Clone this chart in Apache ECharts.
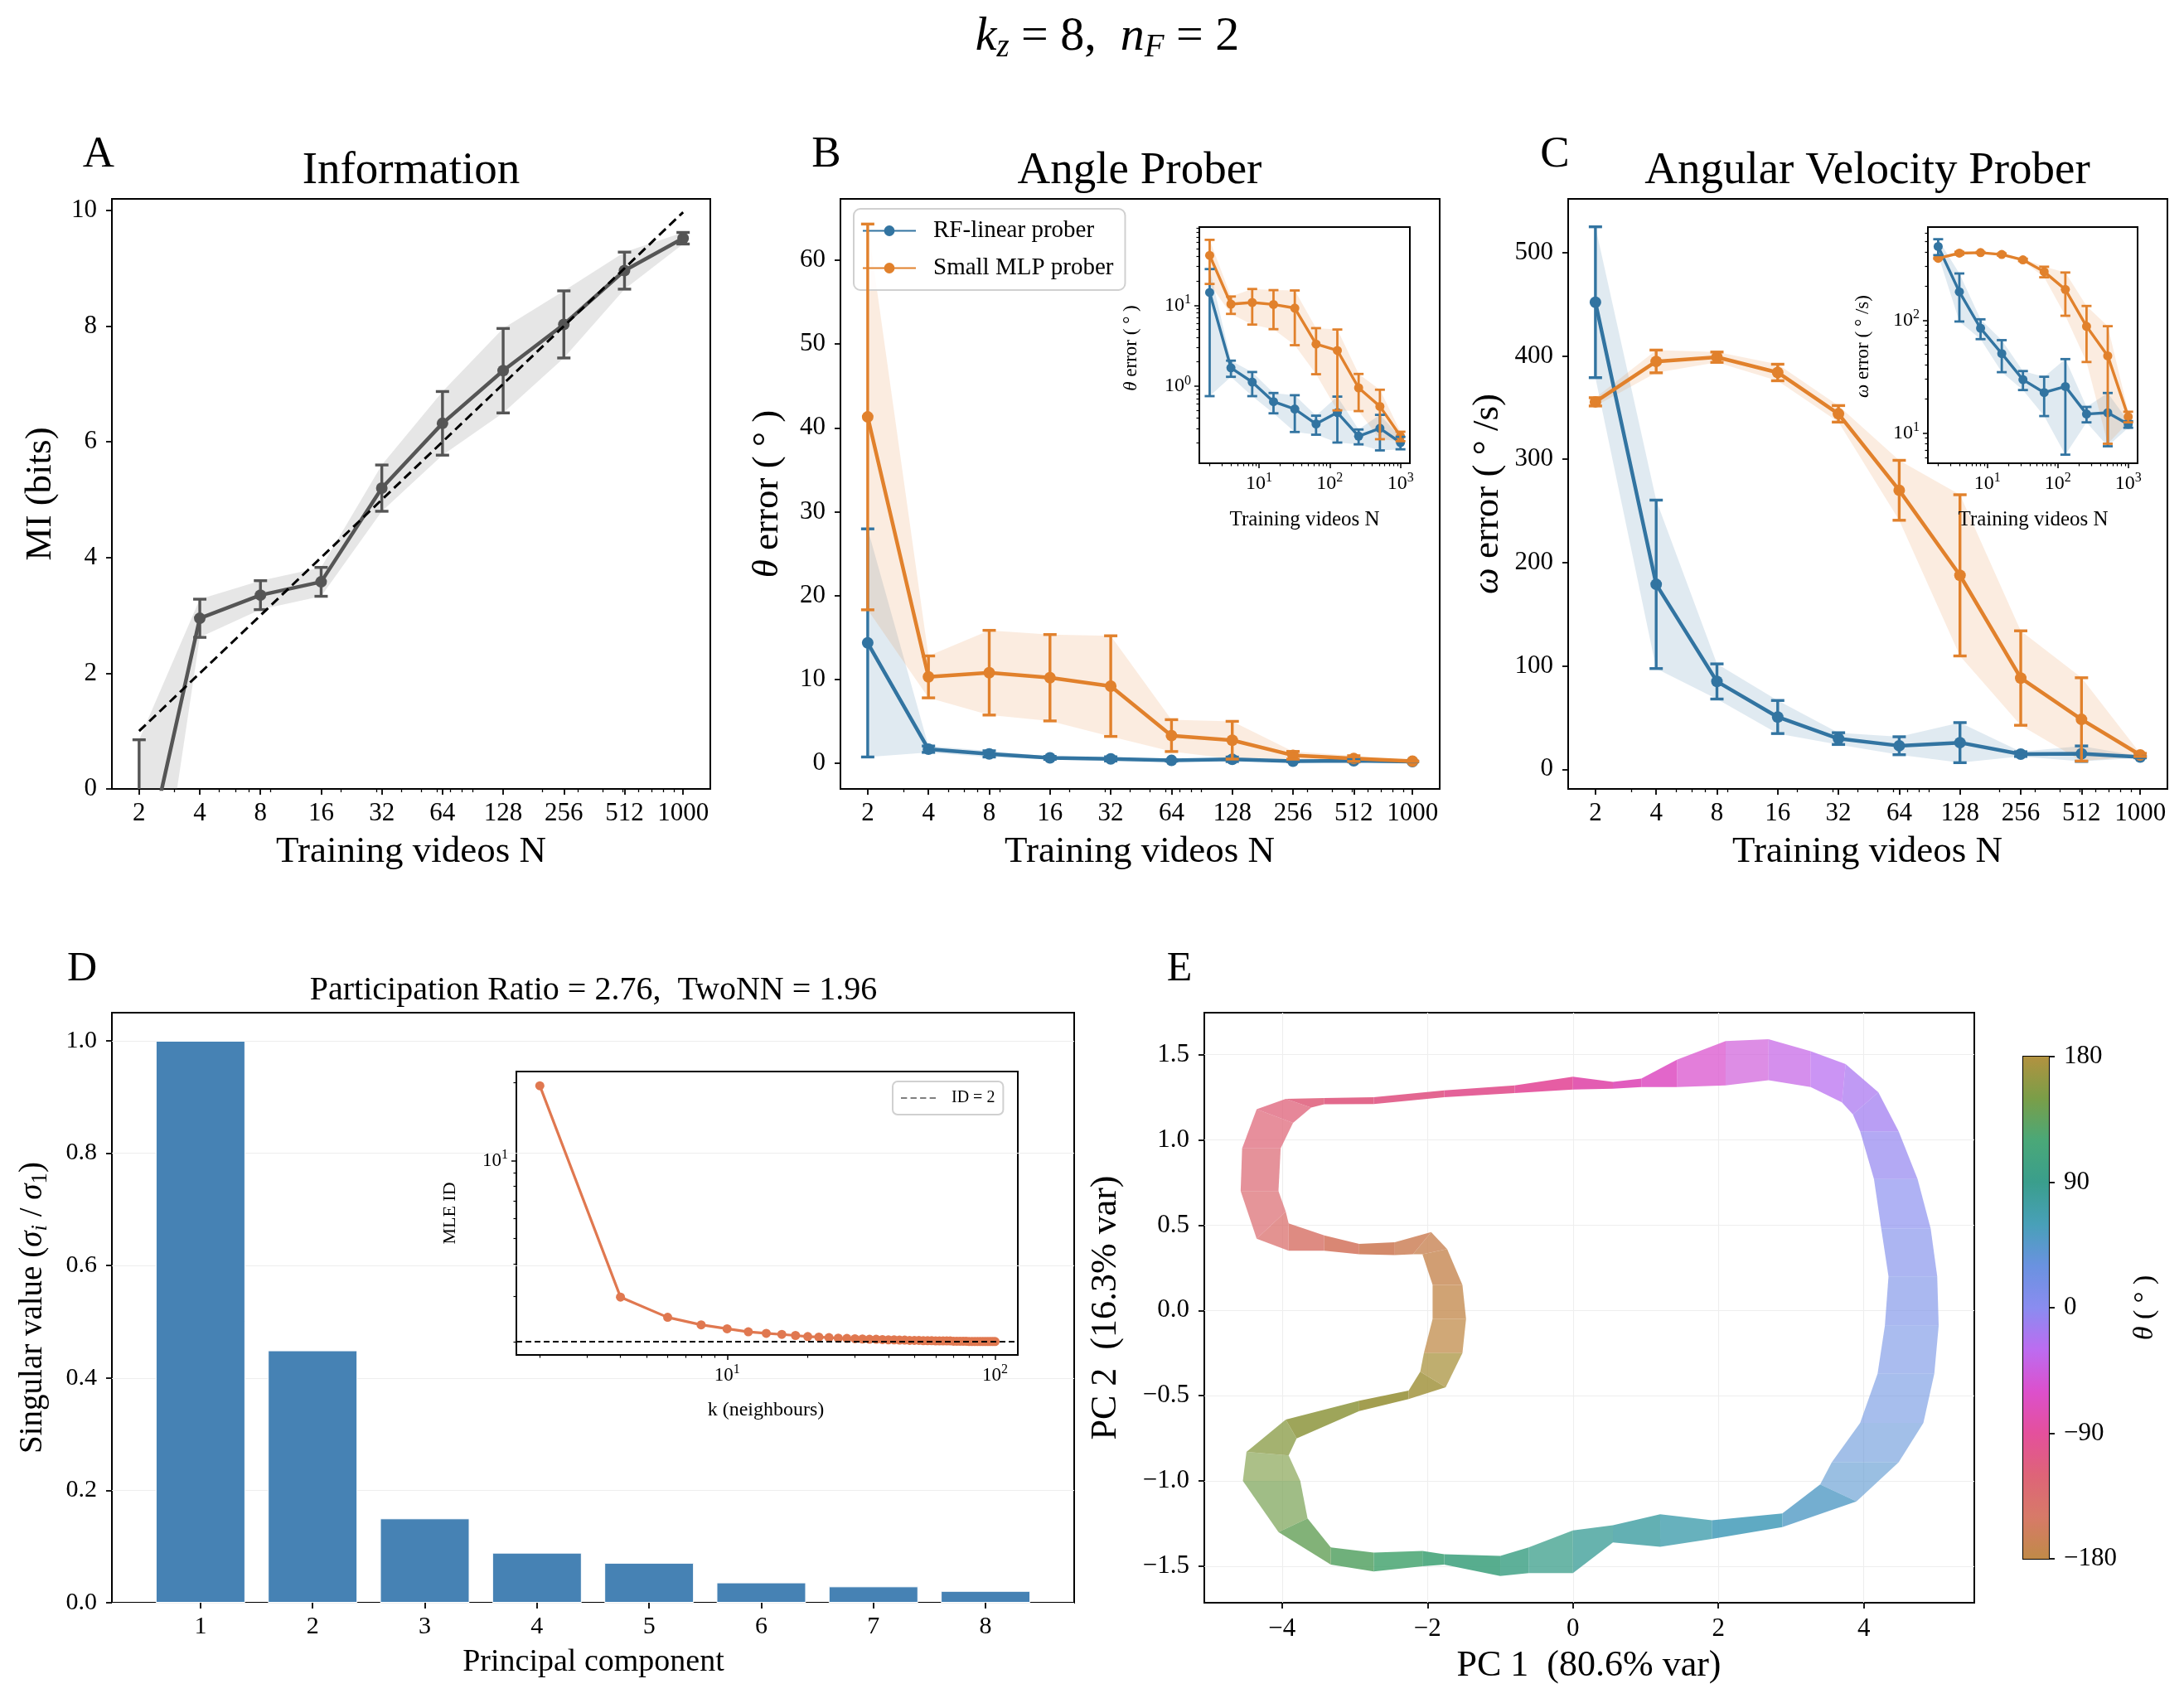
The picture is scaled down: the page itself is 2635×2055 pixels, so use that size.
<!DOCTYPE html>
<html>
<head>
  <meta charset="UTF-8" />
  <title>k_z = 8, n_F = 2</title>
  <script src="https://cdn.jsdelivr.net/npm/echarts@6/dist/echarts.min.js"></script>
  <style>
    html, body { margin: 0; background: #fff; }
    #main { width: 2635px; height: 2055px; }
  </style>
</head>
<body>
  <div id="main"></div>
  <script>
    const FONT = '"Liberation Serif", "Times New Roman", "DejaVu Serif", serif';
    const BLUE = '#3274a1', ORANGE = '#e1812c', GREY = '#555555', CORAL = '#e07850', BAR = '#4682b4';

    // --- training-set sizes (panels A-C)
    const trainN = [2, 4, 8, 16, 32, 64, 128, 256, 512, 1000];
    const nTickLabels = ['2', '4', '8', '16', '32', '64', '128', '256', '512', '1000'];

    // A: mutual information
    const miMean = [-1.76, 2.95, 3.35, 3.58, 5.2, 6.32, 7.23, 8.03, 8.96, 9.52];
    const miErr = [2.61, 0.33, 0.25, 0.25, 0.4, 0.55, 0.73, 0.58, 0.32, 0.1];
    const miIdeal = [1, 2, 3, 4, 5, 6, 7, 8, 9, 9.97];
    const aYTicks = [0, 2, 4, 6, 8, 10];

    // B: angle error (deg)
    const angRfMean = [14.35, 1.68, 1.12, 0.64, 0.52, 0.34, 0.47, 0.24, 0.30, 0.20];
    const angRfErr = [13.6, 0.38, 0.37, 0.18, 0.25, 0.09, 0.27, 0.05, 0.14, 0.035];
    const angMlpMean = [41.3, 10.3, 10.8, 10.2, 9.2, 3.3, 2.75, 0.95, 0.56, 0.24];
    const angMlpErr = [23.0, 2.5, 5.05, 5.15, 6.0, 1.9, 2.25, 0.46, 0.34, 0.032];
    const bYTicks = [0, 10, 20, 30, 40, 50, 60];

    // C: angular velocity error (deg/s)
    const velRfMean = [452, 179, 85, 50.6, 29.7, 22.8, 25.8, 14.7, 15.1, 11.9];
    const velRfErr = [73, 81.5, 17, 16, 5.7, 8.7, 19.4, 2.3, 7.5, 0.8];
    const velMlpMean = [355.6, 394.7, 398.8, 384, 344, 270, 187.7, 88.3, 48.3, 13.9];
    const velMlpErr = [4, 11, 5, 8, 8, 29, 78, 45.7, 40.3, 1.5];
    const cYTicks = [0, 100, 200, 300, 400, 500];

    // D: singular values
    const pcIndex = [1, 2, 3, 4, 5, 6, 7, 8];
    const singVals = [1.0, 0.449, 0.150, 0.089, 0.071, 0.036, 0.029, 0.021];
    const dYTicks = [0, 0.2, 0.4, 0.6, 0.8, 1.0];
    const kNeighbours = [2, 4, 6, 8, 10, 12, 14, 16, 18, 20, 22, 24, 26, 28, 30, 32, 34, 36, 38, 40,
      42, 44, 46, 48, 50, 52, 54, 56, 58, 60, 62, 64, 66, 68, 70, 72, 74, 76, 78, 80,
      82, 84, 86, 88, 90, 92, 94, 96, 98, 100];
    const mleId = [19.5, 2.97, 2.48, 2.32, 2.24, 2.18, 2.15, 2.13, 2.11, 2.09, 2.08, 2.07, 2.06, 2.055, 2.05, 2.045, 2.04, 2.04, 2.035, 2.03,
      2.03, 2.025, 2.025, 2.02, 2.02, 2.02, 2.015, 2.015, 2.015, 2.01, 2.01, 2.01, 2.01, 2.01, 2.005, 2.005, 2.005, 2.005, 2.005, 2.0,
      2.0, 2.0, 2.0, 2.0, 2.0, 2.0, 2.0, 2.0, 2.0, 2.0];
    const idLevel = 2;

    // E: PCA ring, edges read along the loop (exterior edge / interior edge) with theta
    const ringTheta = [-180, -176, -172, -168, -164, -160, -152, -145, -138, -132, -127, -122, -118, -115, -111, -106, -99, -90, -80, -72,
      -66, -58, -48, -38, -28, -20, -14, -6, 2, 10, 16, 22, 28, 35, 42, 50, 58, 66, 74, 82,
      92, 100, 106, 115, 122, 130, 138, 146, 152, 158, 163, 168, 172, 176];
    const ringOutX = [-2.05, -1.93, -1.93, -2.07, -2.20, -2.45, -2.94, -3.42, -3.91, -4.35, -4.57, -4.55, -4.35, -3.95, -3.42, -2.74, -1.77, -0.80, 0.00, 0.55,
      0.94, 1.43, 2.10, 2.69, 3.27, 3.75, 4.20, 4.48, 4.74, 4.92, 5.01, 5.03, 4.97, 4.82, 4.48, 3.90, 2.88, 1.91, 1.20, 0.55,
      0.00, -0.61, -1.00, -1.77, -2.07, -2.74, -3.33, -4.05, -4.54, -4.49, -3.95, -2.94, -2.26, -2.10];
    const ringOutY = [-0.25, -0.05, 0.15, 0.33, 0.33, 0.325, 0.33, 0.35, 0.35, 0.42, 0.70, 0.95, 1.18, 1.24, 1.246, 1.25, 1.29, 1.32, 1.37, 1.34,
      1.36, 1.47, 1.58, 1.59, 1.52, 1.445, 1.28, 1.05, 0.77, 0.48, 0.20, -0.09, -0.37, -0.66, -0.89, -1.12, -1.27, -1.34, -1.386, -1.36,
      -1.54, -1.54, -1.557, -1.49, -1.50, -1.53, -1.49, -1.30, -1.00, -0.83, -0.64, -0.53, -0.47, -0.36];
    const ringInX = [-1.52, -1.47, -1.52, -1.73, -1.95, -2.45, -2.94, -3.42, -3.91, -3.95, -4.05, -4.02, -3.85, -3.60, -3.42, -2.74, -1.77, -0.80, 0.00, 0.55,
      0.94, 1.43, 2.10, 2.69, 3.27, 3.70, 3.85, 3.95, 4.14, 4.24, 4.34, 4.29, 4.19, 3.95, 3.56, 3.40, 2.88, 1.91, 1.20, 0.55,
      0.00, -0.61, -1.00, -1.77, -2.07, -2.74, -3.33, -3.65, -3.75, -3.91, -3.80, -2.94, -2.26, -1.75];
    const ringInY = [-0.25, -0.05, 0.15, 0.36, 0.46, 0.40, 0.39, 0.44, 0.51, 0.58, 0.70, 0.95, 1.10, 1.19, 1.209, 1.21, 1.25, 1.275, 1.295, 1.30,
      1.31, 1.31, 1.32, 1.35, 1.31, 1.22, 1.15, 1.05, 0.77, 0.48, 0.20, -0.09, -0.37, -0.66, -0.89, -1.02, -1.19, -1.23, -1.195, -1.26,
      -1.29, -1.39, -1.44, -1.43, -1.41, -1.42, -1.39, -1.22, -1.00, -0.85, -0.75, -0.59, -0.52, -0.45];
    const eXTicks = [-4, -2, 0, 2, 4];
    const eYTicks = [-1.5, -1.0, -0.5, 0, 0.5, 1.0, 1.5];

    // cyclic colormap for theta
    const cmapTheta = [-180, -150, -120, -90, -60, -30, 0, 30, 60, 90, 120, 150, 180];
    const cmapColors = ['#c08a48', '#d77a68', '#de6478', '#e4509c', '#dc50cc', '#bc6cf0', '#8a8cf0',
      '#6a92e0', '#48a0b8', '#3a9e8c', '#4aa878', '#7a9e48', '#b29240'];
    const cbTicks = [-180, -90, 0, 90, 180];

    // ---------- helpers
    const lg = a => a.map(v => Math.log10(v));
    const plus = (m, e) => m.map((v, i) => v + e[i]);
    const minus = (m, e) => m.map((v, i) => v - e[i]);
    const logN = lg(trainN);
    const neg = s => String(s).replace('-', '\u2212');

    function logMinors(lo, hi, skip) {
      const out = [];
      for (let e = -2; e <= 3; e++) {
        for (let m = 2; m <= 9; m++) {
          const v = m * Math.pow(10, e);
          const l = Math.log10(v);
          if (l > lo && l < hi && !(skip || []).includes(v)) out.push(l);
        }
      }
      return out;
    }
    const nFmt = v => {
      const i = logN.findIndex(l => Math.abs(l - v) < 1e-6);
      return i < 0 ? '' : nTickLabels[i];
    };
    const supFmt = v => '10{sup|' + Math.round(v) + '}';
    const supRich = { sup: { fontSize: 16, fontFamily: FONT, color: '#000', padding: [0, 0, 13, 0] } };

    const grids = [], xAxes = [], yAxes = [], series = [];
    function grid(left, top, width, height, bg) {
      grids.push({ left, top, width, height, show: true, borderColor: '#000', borderWidth: 2,
        backgroundColor: bg || 'transparent', containLabel: false });
      return grids.length - 1;
    }
    function axis(dim, g, min, max, o) {
      const a = {
        type: 'value', gridIndex: g, min, max,
        position: o.pos || (dim === 'x' ? 'bottom' : 'left'),
        axisLine: { show: false, onZero: false },
        splitLine: o.split ? { show: true, lineStyle: { color: '#eeeeee', width: 1.2 } } : { show: false },
        axisTick: o.ticks ? { show: true, customValues: o.ticks, length: o.tl || 7,
          lineStyle: { color: '#000', width: o.tw || 1.8 } } : { show: false },
        axisLabel: o.labels ? { show: true, customValues: o.ticks, formatter: o.fmt, fontSize: o.fs || 31,
          fontFamily: FONT, color: '#000', margin: o.margin || 14, rich: o.rich } : { show: false }
      };
      const list = dim === 'x' ? xAxes : yAxes;
      list.push(a);
      return list.length - 1;
    }
    function band(xi, yi, xs, lo, hi, color) {
      return {
        type: 'custom', xAxisIndex: xi, yAxisIndex: yi, clip: true, silent: true, z: 1,
        data: xs.map((x, i) => [x, lo[i], hi[i]]),
        renderItem(params, api) {
          if (params.dataIndex !== 0) return null;
          const up = xs.map((x, i) => api.coord([x, hi[i]]));
          const dn = xs.map((x, i) => api.coord([x, lo[i]])).reverse();
          return { type: 'polygon', shape: { points: up.concat(dn) }, style: { fill: color } };
        }
      };
    }
    function errBars(xi, yi, xs, lo, hi, color, lw, cap) {
      return {
        type: 'custom', xAxisIndex: xi, yAxisIndex: yi, clip: true, silent: true, z: 4,
        data: xs.map((x, i) => [x, lo[i], hi[i]]),
        renderItem(params, api) {
          const a = api.coord([api.value(0), api.value(2)]);
          const b = api.coord([api.value(0), api.value(1)]);
          const st = () => ({ stroke: color, lineWidth: lw, fill: null });
          return { type: 'group', children: [
            { type: 'line', shape: { x1: a[0], y1: a[1], x2: b[0], y2: b[1] }, style: st() },
            { type: 'line', shape: { x1: a[0] - cap, y1: a[1], x2: a[0] + cap, y2: a[1] }, style: st() },
            { type: 'line', shape: { x1: b[0] - cap, y1: b[1], x2: b[0] + cap, y2: b[1] }, style: st() }
          ] };
        }
      };
    }
    function line(name, xi, yi, xs, ys, color, lw, sym) {
      return {
        type: 'line', name, xAxisIndex: xi, yAxisIndex: yi, clip: true, silent: true, z: 3,
        data: xs.map((x, i) => [x, ys[i]]), symbol: 'circle', symbolSize: sym, showSymbol: true,
        lineStyle: { color, width: lw }, itemStyle: { color }
      };
    }
    function probeSet(xi, yi, xs, rfM, rfE, mlpM, mlpE, isLog, sz) {
      const f = isLog ? lg : (a => a);
      series.push(band(xi, yi, xs, f(minus(rfM, rfE)), f(plus(rfM, rfE)), 'rgba(50,116,161,0.15)'));
      series.push(band(xi, yi, xs, f(minus(mlpM, mlpE)), f(plus(mlpM, mlpE)), 'rgba(225,129,44,0.15)'));
      series.push(line('RF-linear prober', xi, yi, xs, f(rfM), BLUE, sz.lw, sz.sym));
      series.push(errBars(xi, yi, xs, f(minus(rfM, rfE)), f(plus(rfM, rfE)), BLUE, sz.elw, sz.cap));
      series.push(line('Small MLP prober', xi, yi, xs, f(mlpM), ORANGE, sz.lw, sz.sym));
      series.push(errBars(xi, yi, xs, f(minus(mlpM, mlpE)), f(plus(mlpM, mlpE)), ORANGE, sz.elw, sz.cap));
    }

    const XMIN = 0.166, XMAX = 3.135;
    const mainMinors = logMinors(XMIN, XMAX, [2, 4, 8]);
    const mainSz = { lw: 4.5, sym: 14, elw: 3.4, cap: 8 };
    const insetSz = { lw: 3.4, sym: 11, elw: 2.8, cap: 6 };

    // ---------- A
    const gA = grid(135, 240, 722, 712);
    const xA = axis('x', gA, XMIN, XMAX, { ticks: logN, labels: true, fmt: nFmt });
    axis('x', gA, XMIN, XMAX, { ticks: mainMinors, tl: 4, tw: 1.3 });
    const yA = axis('y', gA, 0, 10.2, { ticks: aYTicks, labels: true, fmt: v => String(v), margin: 18 });
    series.push(band(xA, yA, logN, minus(miMean, miErr), plus(miMean, miErr), 'rgba(140,140,140,0.22)'));
    series.push({ type: 'line', xAxisIndex: xA, yAxisIndex: yA, silent: true, z: 5, symbol: 'none',
      data: logN.map((x, i) => [x, miIdeal[i]]), lineStyle: { color: '#000', width: 3, type: [11, 6] } });
    series.push(line('MI', xA, yA, logN, miMean, GREY, 4.5, 14));
    series.push(errBars(xA, yA, logN, minus(miMean, miErr), plus(miMean, miErr), GREY, 3.4, 8));

    // ---------- B
    const gB = grid(1014, 240, 723, 712);
    const xB = axis('x', gB, XMIN, XMAX, { ticks: logN, labels: true, fmt: nFmt });
    axis('x', gB, XMIN, XMAX, { ticks: mainMinors, tl: 4, tw: 1.3 });
    const yB = axis('y', gB, -3.06, 67.3, { ticks: bYTicks, labels: true, fmt: v => String(v), margin: 18 });
    probeSet(xB, yB, logN, angRfMean, angRfErr, angMlpMean, angMlpErr, false, mainSz);

    // ---------- C
    const gC = grid(1892, 240, 723, 712);
    const xC = axis('x', gC, XMIN, XMAX, { ticks: logN, labels: true, fmt: nFmt });
    axis('x', gC, XMIN, XMAX, { ticks: mainMinors, tl: 4, tw: 1.3 });
    const yC = axis('y', gC, -19, 552, { ticks: cYTicks, labels: true, fmt: v => String(v), margin: 18 });
    probeSet(xC, yC, logN, velRfMean, velRfErr, velMlpMean, velMlpErr, false, mainSz);

    // ---------- B inset (log-log)
    const IXMIN = 0.155, IXMAX = 3.133;
    const gBi = grid(1447, 274, 254, 285, '#fff');
    const xBi = axis('x', gBi, IXMIN, IXMAX, { ticks: [1, 2, 3], labels: true, fmt: supFmt, rich: supRich, fs: 24, tl: 6, tw: 1.5, margin: 10 });
    axis('x', gBi, IXMIN, IXMAX, { ticks: logMinors(IXMIN, IXMAX), tl: 3.5, tw: 1.2 });
    const yBi = axis('y', gBi, -0.955, 1.966, { ticks: [0, 1], labels: true, fmt: supFmt, rich: supRich, fs: 24, tl: 6, tw: 1.5, margin: 10 });
    axis('y', gBi, -0.955, 1.966, { ticks: logMinors(-0.955, 1.966), tl: 3.5, tw: 1.2 });
    probeSet(xBi, yBi, logN, angRfMean, angRfErr, angMlpMean, angMlpErr, true, insetSz);

    // ---------- C inset (log-log)
    const gCi = grid(2326, 274, 253, 285, '#fff');
    const xCi = axis('x', gCi, IXMIN, IXMAX, { ticks: [1, 2, 3], labels: true, fmt: supFmt, rich: supRich, fs: 24, tl: 6, tw: 1.5, margin: 10 });
    axis('x', gCi, IXMIN, IXMAX, { ticks: logMinors(IXMIN, IXMAX), tl: 3.5, tw: 1.2 });
    const yCi = axis('y', gCi, 0.730, 2.828, { ticks: [1, 2], labels: true, fmt: supFmt, rich: supRich, fs: 24, tl: 6, tw: 1.5, margin: 10 });
    axis('y', gCi, 0.730, 2.828, { ticks: logMinors(0.730, 2.828), tl: 3.5, tw: 1.2 });
    probeSet(xCi, yCi, logN, velRfMean, velRfErr, velMlpMean, velMlpErr, true, insetSz);

    // ---------- D
    const gD = grid(135, 1222, 1161, 712);
    const xD = axis('x', gD, 0.21, 8.79, { ticks: pcIndex, labels: true, fmt: v => String(v), fs: 30 });
    const yD = axis('y', gD, 0, 1.05, { ticks: dYTicks, labels: true, fmt: v => v.toFixed(1), fs: 30, margin: 18, split: true });
    series.push({ type: 'bar', xAxisIndex: xD, yAxisIndex: yD, silent: true, barWidth: 108, z: 2,
      data: pcIndex.map((x, i) => [x, singVals[i]]),
      itemStyle: { color: BAR, borderColor: '#ffffff', borderWidth: 1 } });

    // D inset
    const gDi = grid(623, 1293, 605, 342, '#fff');
    const DXMIN = 0.2135, DXMAX = 2.085, DYMIN = 0.249, DYMAX = 1.345;
    const xDi = axis('x', gDi, DXMIN, DXMAX, { ticks: [1, 2], labels: true, fmt: supFmt, rich: supRich, fs: 23, tl: 6, tw: 1.5, margin: 10 });
    axis('x', gDi, DXMIN, DXMAX, { ticks: logMinors(DXMIN, DXMAX), tl: 3.5, tw: 1.2 });
    const yDi = axis('y', gDi, DYMIN, DYMAX, { ticks: [1], labels: true, fmt: supFmt, rich: supRich, fs: 23, tl: 6, tw: 1.5, margin: 10 });
    axis('y', gDi, DYMIN, DYMAX, { ticks: logMinors(DYMIN, DYMAX), tl: 3.5, tw: 1.2 });
    series.push(line('MLE ID', xDi, yDi, lg(kNeighbours), lg(mleId), CORAL, 3.2, 11));
    series.push({ type: 'line', name: 'ID = 2', xAxisIndex: xDi, yAxisIndex: yDi, data: [], symbol: 'none',
      silent: true, z: 5, lineStyle: { color: '#000', width: 2, type: 'dashed' }, itemStyle: { color: '#000' },
      markLine: { silent: true, symbol: ['none', 'none'], label: { show: false },
        lineStyle: { color: '#000', width: 2, type: [7, 4] },
        data: [{ yAxis: Math.log10(idLevel) }] } });

    // ---------- E
    const gE = grid(1453, 1222, 929, 712);
    const xE = axis('x', gE, -5.07, 5.52, { ticks: eXTicks, labels: true, fmt: v => neg(v), split: true, margin: 16 });
    const yE = axis('y', gE, -1.714, 1.746, { ticks: eYTicks, labels: true, fmt: v => neg(v.toFixed(1)), split: true, margin: 18 });
    const nRing = ringTheta.length;
    series.push({
      type: 'custom', xAxisIndex: xE, yAxisIndex: yE, clip: true, silent: true, z: 3,
      data: ringTheta.map((t, i) => [i, t]),
      renderItem(params, api) {
        const i = api.value(0), j = (i + 1) % nRing;
        const o1 = api.coord([ringOutX[i], ringOutY[i]]), o2 = api.coord([ringOutX[j], ringOutY[j]]);
        const n1 = api.coord([ringInX[i], ringInY[i]]), n2 = api.coord([ringInX[j], ringInY[j]]);
        const w = (Math.hypot(o1[0] - n1[0], o1[1] - n1[1]) + Math.hypot(o2[0] - n2[0], o2[1] - n2[1])) / 2;
        const op = Math.max(0.6, Math.min(0.93, 1.0 - w / 170));
        return { type: 'polygon', shape: { points: [o1, o2, n2, n1] },
          style: { fill: api.visual('color'), opacity: op } };
      }
    });
    const ringIdx = series.length - 1;

    // colorbar
    const gCB = grid(2441, 1275, 31, 606);
    const xCB = axis('x', gCB, 0, 1, {});
    const yCB = axis('y', gCB, -180, 180, { pos: 'right', ticks: cbTicks, labels: true, fmt: v => neg(v), margin: 18 });
    const cbStops = cmapTheta.map((t, i) => ({ offset: (180 - t) / 360, color: cmapColors[i] })).reverse();
    series.push({
      type: 'custom', xAxisIndex: xCB, yAxisIndex: yCB, silent: true, z: 1,
      data: [[0, -180, 180]],
      renderItem(params, api) {
        const a = api.coord([0, 180]), b = api.coord([1, -180]);
        return { type: 'rect', shape: { x: a[0], y: a[1], width: b[0] - a[0], height: b[1] - a[1] },
          style: { fill: new echarts.graphic.LinearGradient(0, 0, 0, 1, cbStops) } };
      }
    });

    // ---------- text
    function txt(text, x, y, size, opt) {
      opt = opt || {};
      return { type: 'text', x, y, rotation: opt.rot ? Math.PI / 2 : 0, z: 100, silent: true,
        style: { text, fontSize: size, fontFamily: FONT, fill: '#000', align: 'center', verticalAlign: 'middle',
          fontStyle: opt.italic ? 'italic' : 'normal', rich: opt.rich } };
    }
    const mathRich = s => ({
      it: { fontStyle: 'italic', fontSize: s, fontFamily: FONT },
      n: { fontSize: s, fontFamily: FONT },
      sub: { fontStyle: 'italic', fontSize: Math.round(s * 0.68), fontFamily: FONT, padding: [Math.round(s * 0.45), 0, 0, 0] },
      subr: { fontSize: Math.round(s * 0.68), fontFamily: FONT, padding: [Math.round(s * 0.45), 0, 0, 0] }
    });
    const graphics = [
      txt('{it|k}{sub|z}{n| = 8,  }{it|n}{sub|F}{n| = 2}', 1336, 45, 58, { rich: mathRich(58) }),
      txt('A', 119, 187, 53), txt('Information', 496, 207, 55),
      txt('B', 997, 187, 53), txt('Angle Prober', 1375, 207, 55),
      txt('C', 1876, 187, 53), txt('Angular Velocity Prober', 2253, 207, 55),
      txt('Training videos N', 496, 1028, 45),
      txt('Training videos N', 1375, 1028, 45),
      txt('Training videos N', 2253, 1028, 45),
      txt('MI (bits)', 49, 596, 45, { rot: true }),
      txt('{it|θ}{n| error ( ° )}', 926, 596, 45, { rot: true, rich: mathRich(45) }),
      txt('{it|ω}{n| error ( ° /s)}', 1795, 596, 45, { rot: true, rich: mathRich(45) }),
      txt('Training videos N', 1574, 627, 25),
      txt('Training videos N', 2453, 627, 25),
      txt('{it|θ}{n| error ( ° )}', 1365, 420, 23, { rot: true, rich: mathRich(23) }),
      txt('{it|ω}{n| error ( ° /s)}', 2248, 418, 23, { rot: true, rich: mathRich(23) }),
      txt('D', 99, 1170, 50), txt('E', 1423, 1170, 50),
      txt('Participation Ratio = 2.76,  TwoNN = 1.96', 716, 1195, 40),
      txt('Principal component', 716, 2006, 38),
      txt('{n|Singular value (}{it|σ}{sub|i}{n| / }{it|σ}{subr|1}{n|)}', 40, 1578, 39, { rot: true, rich: mathRich(39) }),
      txt('MLE ID', 543, 1464, 22, { rot: true }),
      txt('k (neighbours)', 924, 1702, 24),
      txt('PC 1  (80.6% var)', 1917, 2010, 44),
      txt('PC 2  (16.3% var)', 1334, 1578, 44, { rot: true }),
      txt('{it|θ}{n| ( ° )}', 2588, 1578, 34, { rot: true, rich: mathRich(34) })
    ];

    const chart = echarts.init(document.getElementById('main'), null, { renderer: 'canvas', width: 2635, height: 2055 });
    chart.setOption({
      animation: false,
      backgroundColor: '#ffffff',
      grid: grids,
      xAxis: xAxes,
      yAxis: yAxes,
      visualMap: [{ type: 'continuous', show: false, seriesIndex: ringIdx, dimension: 1,
        min: -180, max: 180, inRange: { color: cmapColors } }],
      legend: [
        { data: ['RF-linear prober', 'Small MLP prober'], orient: 'vertical', left: 1030, top: 252,
          selectedMode: false, itemWidth: 64, itemHeight: 16, itemGap: 16, padding: [12, 14, 12, 10],
          backgroundColor: 'rgba(255,255,255,0.85)', borderColor: '#d0d0d0', borderWidth: 2, borderRadius: 8,
          textStyle: { fontSize: 29, fontFamily: FONT, color: '#000', padding: [0, 0, 0, 16] } },
        { data: [{ name: 'ID = 2', icon: 'path://M0 0H7V1H0Z M11 0H18V1H11Z M22 0H29V1H22Z M33 0H40V1H33Z' }],
          left: 1077, top: 1305, selectedMode: false, itemWidth: 42, itemHeight: 2,
          padding: [10, 10, 10, 10], backgroundColor: '#fff', borderColor: '#d0d0d0', borderWidth: 2, borderRadius: 6,
          textStyle: { fontSize: 20, fontFamily: FONT, color: '#000', padding: [0, 0, 0, 14] } }
      ],
      graphic: graphics,
      series: series
    });
  </script>
</body>
</html>
